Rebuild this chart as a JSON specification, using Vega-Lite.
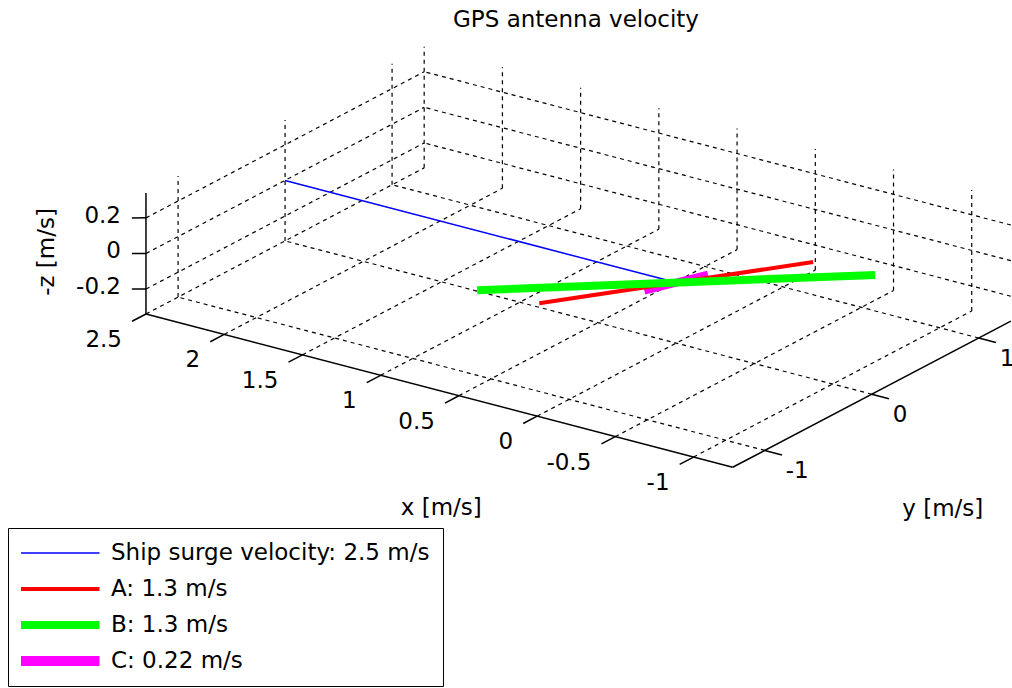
{
  "$schema": "https://vega.github.io/schema/vega-lite/v6.json",
  "width": 1012,
  "height": 688,
  "autosize": "none",
  "padding": 0,
  "background": "white",
  "title": {"text": "GPS antenna velocity", "font": "DejaVu Sans", "fontSize": 23, "fontWeight": "normal", "color": "black", "anchor": "middle", "dx": 70, "offset": -50, "baseline": "alphabetic"},
  "data": {"values": [
    {"kind": "grid", "x1": -1, "y1": -1.3, "z1": -0.34, "x2": -1, "y2": 1.3, "z2": -0.34},
    {"kind": "grid", "x1": -0.5, "y1": -1.3, "z1": -0.34, "x2": -0.5, "y2": 1.3, "z2": -0.34},
    {"kind": "grid", "x1": 0, "y1": -1.3, "z1": -0.34, "x2": 0, "y2": 1.3, "z2": -0.34},
    {"kind": "grid", "x1": 0.5, "y1": -1.3, "z1": -0.34, "x2": 0.5, "y2": 1.3, "z2": -0.34},
    {"kind": "grid", "x1": 1, "y1": -1.3, "z1": -0.34, "x2": 1, "y2": 1.3, "z2": -0.34},
    {"kind": "grid", "x1": 1.5, "y1": -1.3, "z1": -0.34, "x2": 1.5, "y2": 1.3, "z2": -0.34},
    {"kind": "grid", "x1": 2, "y1": -1.3, "z1": -0.34, "x2": 2, "y2": 1.3, "z2": -0.34},
    {"kind": "grid", "x1": 2.5, "y1": -1.3, "z1": -0.34, "x2": 2.5, "y2": 1.3, "z2": -0.34},
    {"kind": "grid", "x1": -1.25, "y1": -1, "z1": -0.34, "x2": 2.5, "y2": -1, "z2": -0.34},
    {"kind": "grid", "x1": -1.25, "y1": 0, "z1": -0.34, "x2": 2.5, "y2": 0, "z2": -0.34},
    {"kind": "grid", "x1": -1.25, "y1": 1, "z1": -0.34, "x2": 2.5, "y2": 1, "z2": -0.34},
    {"kind": "grid", "x1": 2.5, "y1": -1, "z1": -0.34, "x2": 2.5, "y2": -1, "z2": 0.34},
    {"kind": "grid", "x1": 2.5, "y1": 0, "z1": -0.34, "x2": 2.5, "y2": 0, "z2": 0.34},
    {"kind": "grid", "x1": 2.5, "y1": 1, "z1": -0.34, "x2": 2.5, "y2": 1, "z2": 0.34},
    {"kind": "grid", "x1": 2.5, "y1": -1.3, "z1": -0.2, "x2": 2.5, "y2": 1.3, "z2": -0.2},
    {"kind": "grid", "x1": 2.5, "y1": -1.3, "z1": 0, "x2": 2.5, "y2": 1.3, "z2": 0},
    {"kind": "grid", "x1": 2.5, "y1": -1.3, "z1": 0.2, "x2": 2.5, "y2": 1.3, "z2": 0.2},
    {"kind": "grid", "x1": -1, "y1": 1.3, "z1": -0.34, "x2": -1, "y2": 1.3, "z2": 0.34},
    {"kind": "grid", "x1": -0.5, "y1": 1.3, "z1": -0.34, "x2": -0.5, "y2": 1.3, "z2": 0.34},
    {"kind": "grid", "x1": 0, "y1": 1.3, "z1": -0.34, "x2": 0, "y2": 1.3, "z2": 0.34},
    {"kind": "grid", "x1": 0.5, "y1": 1.3, "z1": -0.34, "x2": 0.5, "y2": 1.3, "z2": 0.34},
    {"kind": "grid", "x1": 1, "y1": 1.3, "z1": -0.34, "x2": 1, "y2": 1.3, "z2": 0.34},
    {"kind": "grid", "x1": 1.5, "y1": 1.3, "z1": -0.34, "x2": 1.5, "y2": 1.3, "z2": 0.34},
    {"kind": "grid", "x1": 2, "y1": 1.3, "z1": -0.34, "x2": 2, "y2": 1.3, "z2": 0.34},
    {"kind": "grid", "x1": 2.5, "y1": 1.3, "z1": -0.34, "x2": 2.5, "y2": 1.3, "z2": 0.34},
    {"kind": "grid", "x1": -1.25, "y1": 1.3, "z1": -0.2, "x2": 2.5, "y2": 1.3, "z2": -0.2},
    {"kind": "grid", "x1": -1.25, "y1": 1.3, "z1": 0, "x2": 2.5, "y2": 1.3, "z2": 0},
    {"kind": "grid", "x1": -1.25, "y1": 1.3, "z1": 0.2, "x2": 2.5, "y2": 1.3, "z2": 0.2},
    {"kind": "axis", "x1": 2.5, "y1": -1.3, "z1": -0.34, "x2": -1.25, "y2": -1.3, "z2": -0.34},
    {"kind": "axis", "x1": -1.25, "y1": -1.3, "z1": -0.34, "x2": -1.25, "y2": 1.3, "z2": -0.34},
    {"kind": "axis", "x1": 2.5, "y1": -1.3, "z1": -0.34, "x2": 2.5, "y2": -1.3, "z2": 0.34},
    {"kind": "tick", "x1": -1, "y1": -1.3, "z1": -0.34, "x2": -1, "y2": -1.43, "z2": -0.34},
    {"kind": "tick", "x1": -0.5, "y1": -1.3, "z1": -0.34, "x2": -0.5, "y2": -1.43, "z2": -0.34},
    {"kind": "tick", "x1": 0, "y1": -1.3, "z1": -0.34, "x2": 0, "y2": -1.43, "z2": -0.34},
    {"kind": "tick", "x1": 0.5, "y1": -1.3, "z1": -0.34, "x2": 0.5, "y2": -1.43, "z2": -0.34},
    {"kind": "tick", "x1": 1, "y1": -1.3, "z1": -0.34, "x2": 1, "y2": -1.43, "z2": -0.34},
    {"kind": "tick", "x1": 1.5, "y1": -1.3, "z1": -0.34, "x2": 1.5, "y2": -1.43, "z2": -0.34},
    {"kind": "tick", "x1": 2, "y1": -1.3, "z1": -0.34, "x2": 2, "y2": -1.43, "z2": -0.34},
    {"kind": "tick", "x1": 2.5, "y1": -1.3, "z1": -0.34, "x2": 2.5, "y2": -1.43, "z2": -0.34},
    {"kind": "tick", "x1": -1.25, "y1": -1, "z1": -0.34, "x2": -1.36, "y2": -1, "z2": -0.34},
    {"kind": "tick", "x1": -1.25, "y1": 0, "z1": -0.34, "x2": -1.36, "y2": 0, "z2": -0.34},
    {"kind": "tick", "x1": -1.25, "y1": 1, "z1": -0.34, "x2": -1.36, "y2": 1, "z2": -0.34},
    {"kind": "tick", "x1": 2.5, "y1": -1.3, "z1": -0.2, "x2": 2.56, "y2": -1.344, "z2": -0.2},
    {"kind": "tick", "x1": 2.5, "y1": -1.3, "z1": 0, "x2": 2.56, "y2": -1.344, "z2": 0},
    {"kind": "tick", "x1": 2.5, "y1": -1.3, "z1": 0.2, "x2": 2.56, "y2": -1.344, "z2": 0.2},
    {"kind": "xlab", "x1": -1, "y1": -1.3, "z1": -0.34, "label": "-1"},
    {"kind": "xlab", "x1": -0.5, "y1": -1.3, "z1": -0.34, "label": "-0.5"},
    {"kind": "xlab", "x1": 0, "y1": -1.3, "z1": -0.34, "label": "0"},
    {"kind": "xlab", "x1": 0.5, "y1": -1.3, "z1": -0.34, "label": "0.5"},
    {"kind": "xlab", "x1": 1, "y1": -1.3, "z1": -0.34, "label": "1"},
    {"kind": "xlab", "x1": 1.5, "y1": -1.3, "z1": -0.34, "label": "1.5"},
    {"kind": "xlab", "x1": 2, "y1": -1.3, "z1": -0.34, "label": "2"},
    {"kind": "xlab", "x1": 2.5, "y1": -1.3, "z1": -0.34, "label": "2.5"},
    {"kind": "ylab", "x1": -1.25, "y1": -1, "z1": -0.34, "label": "-1"},
    {"kind": "ylab", "x1": -1.25, "y1": 0, "z1": -0.34, "label": "0"},
    {"kind": "ylab", "x1": -1.25, "y1": 1, "z1": -0.34, "label": "1"},
    {"kind": "zlab", "x1": 2.5, "y1": -1.3, "z1": -0.2, "label": "-0.2"},
    {"kind": "zlab", "x1": 2.5, "y1": -1.3, "z1": 0, "label": "0"},
    {"kind": "zlab", "x1": 2.5, "y1": -1.3, "z1": 0.2, "label": "0.2"},
    {"kind": "xtitle", "x1": 0.625, "y1": -1.3, "z1": -0.34, "label": "x [m/s]"},
    {"kind": "ytitle", "x1": -1.25, "y1": 0, "z1": -0.34, "label": "y [m/s]"},
    {"kind": "ztitle", "x1": 2.5, "y1": -1.3, "z1": 0, "label": "-z [m/s]"},
    {"kind": "series", "series": "Ship surge velocity: 2.5 m/s", "x1": 2.5, "y1": 0, "z1": 0, "x2": 0, "y2": 0, "z2": 0},
    {"kind": "series", "series": "C: 0.22 m/s", "x1": 0.071, "y1": -0.194, "z1": 0, "x2": -0.071, "y2": 0.194, "z2": 0},
    {"kind": "series", "series": "A: 1.3 m/s", "x1": 0.417, "y1": -0.67, "z1": 0, "x2": -0.417, "y2": 0.67, "z2": 0},
    {"kind": "series", "series": "B: 1.3 m/s", "x1": 0.788, "y1": -0.708, "z1": 0, "x2": -0.788, "y2": 0.708, "z2": 0}
  ]},
  "transform": [
    {"calculate": "-156.45*datum.x1 + 107*datum.y1", "as": "u1"},
    {"calculate": "-40.88*datum.x1 - 56.2*datum.y1 - 178*datum.z1", "as": "v1"},
    {"calculate": "-156.45*datum.x2 + 107*datum.y2", "as": "u2"},
    {"calculate": "-40.88*datum.x2 - 56.2*datum.y2 - 178*datum.z2", "as": "v2"}
  ],
  "encoding": {
    "x": {"field": "u1", "type": "quantitative", "axis": null, "scale": {"domain": [-676.2, 335.8], "nice": false, "zero": false}},
    "y": {"field": "v1", "type": "quantitative", "axis": null, "scale": {"domain": [-282.6, 405.4], "nice": false, "zero": false, "reverse": true}}
  },
  "layer": [
    {
      "transform": [{"filter": "datum.kind === 'grid'"}],
      "mark": {"type": "rule", "color": "black", "strokeWidth": 1.2, "strokeDash": [4, 4]},
      "encoding": {"x2": {"field": "u2"}, "y2": {"field": "v2"}}
    },
    {
      "transform": [{"filter": "datum.kind === 'axis' || datum.kind === 'tick'"}],
      "mark": {"type": "rule", "color": "black", "strokeWidth": 1.5},
      "encoding": {"x2": {"field": "u2"}, "y2": {"field": "v2"}}
    },
    {
      "transform": [{"filter": "datum.kind === 'xlab'"}],
      "mark": {"type": "text", "font": "DejaVu Sans", "fontSize": 23, "color": "black", "align": "right", "baseline": "middle", "dx": -24, "dy": 26},
      "encoding": {"text": {"field": "label"}}
    },
    {
      "transform": [{"filter": "datum.kind === 'ylab'"}],
      "mark": {"type": "text", "font": "DejaVu Sans", "fontSize": 23, "color": "black", "align": "left", "baseline": "middle", "dx": 21, "dy": 21},
      "encoding": {"text": {"field": "label"}}
    },
    {
      "transform": [{"filter": "datum.kind === 'zlab'"}],
      "mark": {"type": "text", "font": "DejaVu Sans", "fontSize": 23, "color": "black", "align": "right", "baseline": "middle", "dx": -25, "dy": -2},
      "encoding": {"text": {"field": "label"}}
    },
    {
      "transform": [{"filter": "datum.kind === 'xtitle'"}],
      "mark": {"type": "text", "font": "DejaVu Sans", "fontSize": 23, "color": "black", "align": "center", "baseline": "middle", "dx": 2, "dy": 117},
      "encoding": {"text": {"field": "label"}}
    },
    {
      "transform": [{"filter": "datum.kind === 'ytitle'"}],
      "mark": {"type": "text", "font": "DejaVu Sans", "fontSize": 23, "color": "black", "align": "center", "baseline": "middle", "dx": 71, "dy": 115},
      "encoding": {"text": {"field": "label"}}
    },
    {
      "transform": [{"filter": "datum.kind === 'ztitle'"}],
      "mark": {"type": "text", "font": "DejaVu Sans", "fontSize": 23, "color": "black", "align": "center", "baseline": "middle", "angle": 270, "dx": 1.5, "dy": -99},
      "encoding": {"text": {"field": "label"}}
    },
    {
      "transform": [{"filter": "datum.kind === 'series'"}],
      "mark": {"type": "rule", "strokeCap": "butt", "opacity": 1},
      "encoding": {
        "x2": {"field": "u2"},
        "y2": {"field": "v2"},
        "color": {
          "field": "series", "type": "nominal",
          "scale": {"domain": ["Ship surge velocity: 2.5 m/s", "A: 1.3 m/s", "B: 1.3 m/s", "C: 0.22 m/s"], "range": ["#0000ff", "#ff0000", "#00ff00", "#ff00ff"]},
          "legend": {
            "title": null, "orient": "none", "legendX": 8, "legendY": 528,
            "symbolType": "stroke", "symbolSize": 6241, "clipHeight": 24, "rowPadding": 12,
            "symbolOffset": 27.5, "labelOffset": 39.5, "labelLimit": 600, "labelFont": "DejaVu Sans", "labelFontSize": 23, "labelColor": "black",
            "strokeColor": "black", "fillColor": "white", "padding": 13, "cornerRadius": 0, "symbolOpacity": 1,
            "encode": {"symbols": {"update": {"strokeWidth": {"signal": "datum.value === 'B: 1.3 m/s' ? 8 : datum.value === 'C: 0.22 m/s' ? 10 : datum.value === 'A: 1.3 m/s' ? 4 : 1.5"}}}}
          }
        },
        "strokeWidth": {
          "condition": [
            {"test": "datum.series === 'A: 1.3 m/s'", "value": 4},
            {"test": "datum.series === 'B: 1.3 m/s'", "value": 8},
            {"test": "datum.series === 'C: 0.22 m/s'", "value": 8}
          ],
          "value": 1.5
        }
      }
    }
  ],
  "config": {"view": {"stroke": null}}
}
